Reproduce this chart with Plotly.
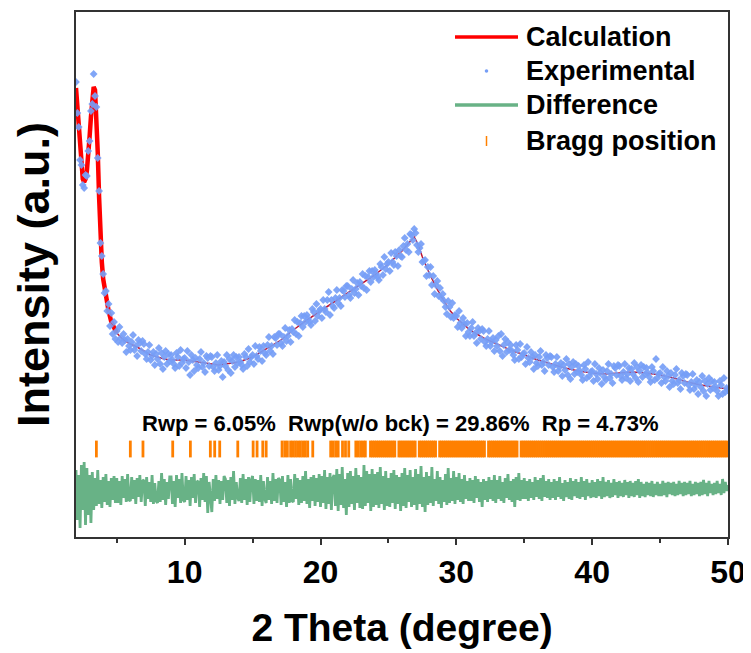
import numpy as np
import plotly.graph_objects as go

# ---------------- data ----------------
TWO_THETA_START = 2.0      # first 2-theta point of the scan (degree)
TWO_THETA_STEP = 0.1       # scan step (degree)

# Experimental intensity (a.u.), one row per degree, 0.1 degree step
experimental = [
    455, 424, 410, 377, 372, 352, 349, 362, 361, 386,   # 2
    396, 426, 433, 463, 441, 430, 379, 346, 294, 281,   # 3
    263, 244, 246, 226, 233, 211, 224, 203, 215, 198,   # 4
    206, 195, 210, 199, 194, 203, 197, 185, 198, 191,   # 5
    187, 195, 202, 187, 191, 181, 197, 194, 186, 196,   # 6
    193, 183, 178, 185, 192, 177, 181, 185, 172, 183,   # 7
    178, 189, 173, 184, 168, 180, 186, 173, 183, 176,   # 8
    182, 177, 173, 169, 184, 180, 171, 187, 174, 178,   # 9
    179, 169, 186, 175, 162, 182, 177, 166, 179, 172,   # 10
    169, 178, 185, 170, 174, 165, 181, 179, 171, 181,   # 11
    180, 170, 166, 174, 182, 167, 171, 176, 160, 175,   # 12
    171, 182, 167, 178, 164, 176, 182, 170, 180, 174,   # 13
    180, 175, 172, 168, 183, 180, 171, 188, 175, 180,   # 14
    182, 173, 191, 181, 178, 190, 186, 176, 191, 184,   # 15
    182, 192, 200, 186, 191, 183, 200, 199, 192, 203,   # 16
    203, 194, 191, 200, 209, 196, 201, 207, 195, 208,   # 17
    205, 217, 203, 215, 201, 214, 221, 210, 221, 215,   # 18
    222, 218, 215, 212, 228, 225, 216, 233, 221, 226,   # 19
    228, 219, 237, 228, 225, 237, 245, 222, 237, 231,   # 20
    229, 239, 247, 234, 239, 231, 247, 246, 240, 251,   # 21
    251, 242, 239, 248, 257, 244, 248, 254, 242, 255,   # 22
    251, 263, 249, 261, 247, 260, 266, 255, 266, 260,   # 23
    267, 263, 260, 257, 273, 270, 262, 280, 268, 273,   # 24
    275, 266, 284, 275, 272, 285, 281, 271, 287, 281,   # 25
    280, 291, 299, 287, 293, 285, 303, 302, 297, 308,   # 26
    304, 292, 285, 289, 293, 275, 276, 277, 261, 270,   # 27
    262, 270, 252, 261, 243, 252, 256, 241, 249, 239,   # 28
    243, 236, 230, 223, 236, 230, 220, 234, 219, 222,   # 29
    221, 210, 226, 214, 209, 219, 213, 201, 214, 205,   # 30
    201, 209, 215, 201, 204, 194, 209, 206, 198, 208,   # 31
    206, 195, 191, 198, 206, 191, 195, 199, 186, 197,   # 32
    191, 201, 186, 203, 181, 192, 198, 185, 195, 187,   # 33
    192, 186, 182, 177, 192, 187, 178, 193, 180, 183,   # 34
    184, 173, 190, 179, 175, 185, 180, 168, 182, 174,   # 35
    171, 180, 186, 172, 175, 166, 182, 179, 172, 181,   # 36
    180, 170, 165, 173, 180, 166, 170, 174, 161, 172,   # 37
    167, 178, 162, 173, 158, 170, 175, 163, 173, 165,   # 38
    171, 166, 162, 157, 172, 168, 159, 175, 161, 165,   # 39
    166, 156, 173, 163, 158, 169, 164, 153, 167, 160,   # 40
    157, 166, 173, 159, 163, 154, 171, 169, 162, 172,   # 41
    171, 161, 157, 165, 173, 159, 163, 169, 156, 168,   # 42
    163, 174, 159, 170, 155, 166, 172, 160, 170, 163,   # 43
    169, 164, 160, 155, 170, 166, 157, 178, 159, 163,   # 44
    164, 154, 170, 160, 156, 166, 161, 150, 164, 156,   # 45
    153, 162, 168, 154, 157, 148, 164, 161, 154, 163,   # 46
    162, 152, 147, 155, 163, 148, 152, 157, 143, 155,   # 47
    150, 161, 146, 156, 141, 153, 159, 147, 156, 149,   # 48
    155, 150, 146, 141, 156, 152, 143, 159, 145, 149,   # 49
    147,                                                # 50
]

# Difference curve (offset, a.u.), same 0.1 degree grid
difference = [
    67, 17, 62, 9, 72, 27, 75, 12, 69, 22,    # 2
    62, 14, 65, 27, 59, 31, 67, 33, 57, 29,   # 3
    60, 35, 63, 32, 56, 30, 59, 37, 61, 34,   # 4
    59, 34, 56, 32, 61, 39, 58, 35, 63, 37,   # 5
    36, 60, 38, 57, 33, 59, 40, 62, 35, 56,   # 6
    57, 31, 60, 38, 55, 35, 62, 33, 54, 36,   # 7
    34, 56, 35, 64, 37, 58, 32, 55, 38, 60,   # 8
    60, 33, 56, 30, 62, 39, 58, 34, 64, 37,   # 9
    35, 61, 37, 57, 31, 60, 39, 63, 34, 55,   # 10
    56, 30, 59, 37, 64, 35, 61, 24, 55, 38,   # 11
    25, 58, 36, 62, 38, 57, 33, 56, 37, 61,   # 12
    58, 34, 57, 31, 60, 37, 66, 33, 55, 39,   # 13
    36, 59, 34, 63, 37, 58, 32, 60, 35, 57,   # 14
    61, 33, 58, 36, 57, 35, 62, 31, 56, 38,   # 15
    34, 60, 37, 56, 33, 64, 36, 58, 34, 59,   # 16
    57, 32, 61, 35, 55, 30, 62, 34, 58, 36,   # 17
    35, 63, 38, 59, 32, 57, 34, 61, 36, 66,   # 18
    33, 58, 29, 60, 36, 62, 31, 59, 35, 63,   # 19
    30, 61, 34, 67, 28, 60, 33, 64, 27, 59,   # 20
    62, 31, 68, 26, 63, 32, 70, 29, 58, 22,   # 21
    64, 30, 66, 33, 61, 27, 69, 34, 62, 29,   # 22
    60, 28, 72, 31, 66, 34, 63, 26, 68, 30,   # 23
    63, 32, 65, 29, 70, 33, 61, 27, 66, 31,   # 24
    59, 30, 64, 34, 67, 28, 62, 33, 60, 26,   # 25
    64, 31, 69, 29, 62, 35, 67, 30, 60, 32,   # 26
    68, 27, 63, 33, 71, 30, 60, 25, 65, 32,   # 27
    61, 34, 70, 31, 58, 36, 66, 33, 60, 29,   # 28
    57, 35, 63, 32, 69, 34, 59, 36, 66, 33,   # 29
    60, 37, 64, 35, 58, 33, 62, 38, 56, 36,   # 30
    59, 36, 57, 34, 61, 39, 58, 35, 55, 30,   # 31
    58, 37, 56, 35, 60, 38, 57, 36, 62, 34,   # 32
    57, 38, 61, 36, 55, 34, 59, 39, 63, 37,   # 33
    56, 35, 58, 30, 60, 37, 64, 36, 57, 38,   # 34
    59, 38, 56, 36, 58, 39, 55, 37, 60, 40,   # 35
    57, 38, 59, 36, 62, 40, 56, 39, 58, 37,   # 36
    55, 39, 58, 37, 56, 40, 60, 38, 54, 36,   # 37
    57, 40, 55, 38, 59, 37, 56, 41, 58, 39,   # 38
    55, 38, 60, 40, 56, 37, 58, 41, 54, 39,   # 39
    57, 40, 55, 39, 58, 41, 56, 38, 60, 40,   # 40
    55, 41, 57, 39, 54, 40, 58, 42, 55, 39,   # 41
    56, 41, 54, 40, 57, 42, 55, 39, 56, 41,   # 42
    54, 40, 56, 42, 58, 39, 55, 41, 53, 40,   # 43
    55, 42, 54, 41, 56, 40, 53, 42, 55, 41,   # 44
    53, 41, 56, 42, 54, 40, 55, 43, 54, 42,   # 45
    55, 41, 53, 42, 56, 43, 54, 41, 55, 42,   # 46
    54, 43, 56, 41, 53, 42, 55, 43, 54, 41,   # 47
    55, 42, 57, 43, 54, 41, 56, 44, 53, 42,   # 48
    54, 43, 56, 44, 53, 42, 58, 44, 55, 46,   # 49
    52,                                       # 50
]

# Calculated profile (smooth), sampled where it changes
calc_two_theta = [2.0, 2.1, 2.2, 2.3, 2.4, 2.5, 2.6, 2.7, 2.8, 2.9, 3.0, 3.1, 3.2, 3.3,
                  3.4, 3.5, 3.6, 3.7, 3.8, 3.9, 4.0, 4.2, 4.4, 4.6, 4.8, 5.0, 5.5, 6.0,
                  6.5, 7.0, 7.5, 8.0, 8.5, 9.0, 10, 11, 12, 12.5, 13, 14, 15, 15.5, 16,
                  17, 18, 19, 20, 21, 22, 23, 24, 25, 25.5, 26, 26.5, 26.9, 27.2, 27.5,
                  28, 28.5, 29, 29.5, 30, 31, 32, 33, 34, 35, 36, 37, 38, 39, 40, 41,
                  42, 43, 44, 45, 46, 47, 48, 49, 50]
calc_intensity = [449, 430, 405, 382, 368, 358, 355, 358, 366, 380, 400, 420, 438, 450,
                  447, 425, 385, 340, 300, 275, 258, 240, 226, 215, 208, 204, 197, 193,
                  190, 186, 182, 180, 178, 177, 177, 175, 173, 172, 173, 175, 180, 184, 188,
                  196, 207, 217, 226, 235, 244, 253, 262, 273, 279, 286, 294, 300, 292, 280,
                  264, 250, 238, 227, 219, 207, 199, 193, 187, 182, 177, 173, 169, 166, 164, 163,
                  164, 165, 164, 162, 159, 155, 152, 150, 148]

# Bragg reflection positions (degree)
bragg_positions = [
    3.50, 6.00, 6.93, 9.12, 10.42, 11.89, 12.21, 12.58, 13.91, 15.04, 15.33, 15.75,
    16.00, 17.17, 17.37, 17.56, 17.80, 17.98, 18.16, 18.34, 18.52, 18.70, 18.88, 19.06,
    19.43, 20.75, 20.93, 21.12, 21.30, 21.62, 21.84, 22.08, 22.60, 22.78, 22.96, 23.14,
    23.30, 23.68, 23.83, 23.98, 24.13, 24.28, 24.43, 24.58, 24.73, 24.88, 25.03, 25.18,
    25.33, 25.47, 25.77, 25.92, 26.07, 26.22, 26.37, 26.52, 26.67, 26.82, 26.97, 27.27,
    27.42, 27.57, 27.72, 27.87, 28.02, 28.17, 28.32, 28.47, 28.77, 28.92, 29.07, 29.22,
    29.37, 29.52, 29.67, 29.82, 29.97, 30.12, 30.27, 30.42, 30.57, 30.72, 30.87, 31.02,
    31.17, 31.32, 31.47, 31.62, 31.77, 31.92, 32.07, 32.37, 32.52, 32.67, 32.82, 32.97,
    33.12, 33.27, 33.42, 33.57, 33.72, 33.87, 34.02, 34.17, 34.32, 34.47, 34.77, 34.92,
    35.07, 35.22, 35.37, 35.52, 35.67, 35.82, 35.97, 36.12, 36.27, 36.42, 36.57, 36.72,
    36.87, 37.02, 37.17, 37.32, 37.47, 37.62, 37.77, 37.92, 38.07, 38.22, 38.37, 38.52,
    38.67, 38.82, 38.97, 39.12, 39.27, 39.42, 39.57, 39.72, 39.87, 40.02, 40.17, 40.32,
    40.47, 40.62, 40.77, 40.92, 41.07, 41.22, 41.37, 41.52, 41.67, 41.82, 41.97, 42.12,
    42.27, 42.42, 42.57, 42.72, 42.87, 43.02, 43.17, 43.32, 43.47, 43.62, 43.77, 43.92,
    44.07, 44.22, 44.37, 44.52, 44.67, 44.82, 44.97, 45.12, 45.27, 45.42, 45.57, 45.72,
    45.87, 46.02, 46.17, 46.32, 46.47, 46.62, 46.77, 46.92, 47.07, 47.22, 47.37, 47.52,
    47.67, 47.82, 47.97, 48.12, 48.27, 48.42, 48.57, 48.72, 48.87, 49.02, 49.17, 49.32,
    49.47, 49.62, 49.77, 49.92,
]
BRAGG_LEVEL = 88          # vertical level of the Bragg tick row (a.u.)

series_names = ["Calculation", "Experimental", "Difference", "Bragg position"]
fit_text = "Rwp = 6.05%\u00a0\u00a0Rwp(w/o bck) = 29.86%\u00a0\u00a0Rp = 4.73%"
x_title = "2 Theta (degree)"
y_title = "Intensity (a.u.)"

# ---------------- styling ----------------
RED = "#ff0000"
BLUE = "rgb(118,158,246)"
GREEN = "rgb(104,178,134)"
ORANGE = "#ff8000"
AXIS = "#333333"
FONT = "Liberation Sans"

BODY = 8                      # default page margin around the plot div
W, H = 751 - BODY, 653 - BODY
ML, MR, MT, MB = 68, 23, 4, 116
PW, PH = W - ML - MR, H - MT - MB

def px_to_paper(px, py):
    """page pixel -> paper coordinates"""
    return (px - BODY - ML) / PW, (H - MB - (py - BODY)) / PH

exp_x = np.round(TWO_THETA_START + TWO_THETA_STEP * np.arange(len(experimental)), 2)
diff_x = np.round(TWO_THETA_START + TWO_THETA_STEP * np.arange(len(difference)), 2)

calc_x = np.array(calc_two_theta, dtype=float)
calc_y = np.array(calc_intensity, dtype=float)
sharp = calc_x <= 5.0
broad = calc_x >= 5.0

fig = go.Figure()
fig.add_trace(go.Scatter(x=calc_x[sharp], y=calc_y[sharp], mode="lines",
                         line=dict(color=RED, width=4.5), name=series_names[0],
                         showlegend=False))
fig.add_trace(go.Scatter(x=calc_x[broad], y=calc_y[broad], mode="lines",
                         line=dict(color="rgb(190,20,50)", width=1.5), name=series_names[0],
                         showlegend=False))
fig.add_trace(go.Scatter(x=exp_x, y=experimental, mode="markers",
                         marker=dict(symbol="diamond", size=6, color=BLUE, opacity=0.92,
                                     line=dict(width=0)),
                         name=series_names[1], showlegend=False))
fig.add_trace(go.Scatter(x=diff_x, y=difference, mode="lines",
                         line=dict(color=GREEN, width=2.8), name=series_names[2],
                         showlegend=False))
fig.add_trace(go.Scatter(x=bragg_positions, y=[BRAGG_LEVEL] * len(bragg_positions),
                         mode="markers",
                         marker=dict(symbol="line-ns-open", size=12, color=ORANGE,
                                     line=dict(color=ORANGE, width=2.8)),
                         name=series_names[3], showlegend=False))

# ---- hand-drawn legend (long line samples as in the reference) ----
shapes = []
annotations = []
leg_rows = [37, 71, 105, 141]
lx0, lx1, ltext = 455, 518, 524
for i, name in enumerate(series_names):
    xa, yy = px_to_paper(lx0, leg_rows[i])
    xb, _ = px_to_paper(lx1, leg_rows[i])
    xm = (xa + xb) / 2
    if i == 0:
        shapes.append(dict(type="line", xref="paper", yref="paper", x0=xa, x1=xb,
                           y0=yy, y1=yy, line=dict(color=RED, width=3.5)))
    elif i == 1:
        shapes.append(dict(type="circle", xref="paper", yref="paper",
                           xsizemode="pixel", ysizemode="pixel", xanchor=xm, yanchor=yy,
                           x0=-1.8, x1=1.8, y0=-1.8, y1=1.8, fillcolor=BLUE,
                           line=dict(width=0)))
    elif i == 2:
        shapes.append(dict(type="line", xref="paper", yref="paper", x0=xa, x1=xb,
                           y0=yy, y1=yy, line=dict(color=GREEN, width=3.5)))
    else:
        shapes.append(dict(type="line", xref="paper", yref="paper",
                           ysizemode="pixel", yanchor=yy, x0=xm, x1=xm, y0=-5, y1=5,
                           line=dict(color=ORANGE, width=1.5)))
    tx, _ = px_to_paper(ltext, 0)
    annotations.append(dict(text=name, xref="paper", yref="paper", x=tx, y=yy,
                            xanchor="left", yanchor="middle", showarrow=False,
                            font=dict(family=FONT, size=27, color="black", weight="bold")))

fx, fy = px_to_paper(400, 423)
annotations.append(dict(text=fit_text, xref="paper", yref="paper", x=fx, y=fy,
                        xanchor="center", yanchor="middle", showarrow=False,
                        font=dict(family=FONT, size=22, color="black", weight="bold")))

fig.update_layout(
    width=W, height=H,
    margin=dict(l=ML, r=MR, t=MT, b=MB, autoexpand=False),
    paper_bgcolor="white", plot_bgcolor="white",
    showlegend=False,
    shapes=shapes, annotations=annotations,
    font=dict(family=FONT, color="black"),
)
fig.update_xaxes(
    range=[2, 50], dtick=10, tick0=0,
    showline=True, mirror=True, linecolor=AXIS, linewidth=1.8,
    ticks="outside", ticklen=6, tickwidth=1.6, tickcolor=AXIS,
    minor=dict(dtick=5, ticks="outside", ticklen=4, tickwidth=1.6, tickcolor=AXIS),
    showgrid=False, zeroline=False,
    tickfont=dict(family=FONT, size=32, color="black", weight="bold"),
    ticklabelstandoff=0,
    title=dict(text=x_title, font=dict(family=FONT, size=39, color="black", weight="bold"),
               standoff=24),
    automargin=False,
)
fig.update_yaxes(
    range=[0, 525],
    showline=True, mirror=True, linecolor=AXIS, linewidth=1.8,
    ticks="", showticklabels=False, showgrid=False, zeroline=False,
    title=dict(text=y_title, font=dict(family=FONT, size=45, color="black", weight="bold"),
               standoff=14),
    automargin=False,
)

fig.write_html("out.html")
